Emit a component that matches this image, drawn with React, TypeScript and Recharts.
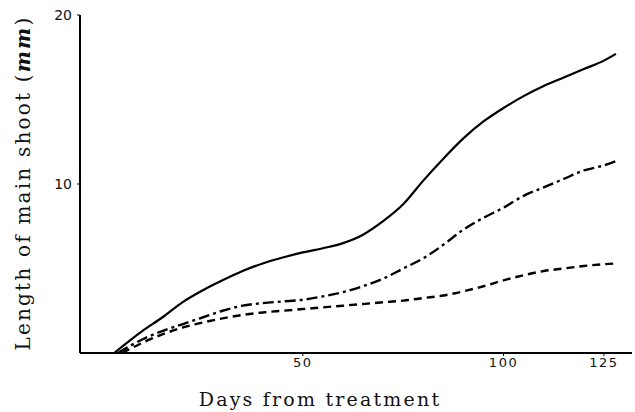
import { CartesianGrid, Line, LineChart, XAxis, YAxis } from "recharts";

// days after treatment, shared by the three curves
const days = [10, 15, 20, 25, 30, 35, 40, 45, 50, 55, 60, 65, 70, 75, 80, 85, 90, 95, 100, 105, 110, 115, 120, 125, 128];

// main shoot length (mm)
const solidVals = [1.3, 2.1, 3.0, 3.7, 4.3, 4.85, 5.3, 5.65, 5.95, 6.2, 6.5, 7.0, 7.8, 8.8, 10.2, 11.5, 12.7, 13.7, 14.5, 15.2, 15.8, 16.3, 16.8, 17.3, 17.7];
const dashDotVals = [0.8, 1.3, 1.7, 2.1, 2.5, 2.8, 2.95, 3.05, 3.15, 3.35, 3.6, 3.95, 4.4, 5.0, 5.6, 6.4, 7.3, 8.0, 8.6, 9.3, 9.8, 10.3, 10.8, 11.1, 11.35];
const dashedVals = [0.6, 1.1, 1.5, 1.8, 2.05, 2.25, 2.4, 2.5, 2.6, 2.7, 2.8, 2.9, 3.0, 3.1, 3.25, 3.4, 3.65, 3.95, 4.3, 4.6, 4.85, 5.0, 5.15, 5.25, 5.3];

// day each curve leaves the baseline
const startDays = [3, 4, 5];

const xTicks = [50, 100, 125];
const yTicks = [10, 20];

const build = (start: number, vals: number[]) => [
  { day: start, v: 0 },
  ...days.map((d, i) => ({ day: d, v: vals[i] })),
];

const serif = "'DejaVu Serif', serif";

export default function App() {
  const solid = build(startDays[0], solidVals);
  const dashDot = build(startDays[1], dashDotVals);
  const dashed = build(startDays[2], dashedVals);

  return (
    <div style={{ position: "absolute", left: 0, top: 0, background: "#fff" }}>
      <LineChart width={635} height={412} margin={{ top: 15, right: 3, bottom: 29, left: 0 }}>
        <CartesianGrid stroke="none" />
        <XAxis
          dataKey="day"
          type="number"
          domain={[-5.5, 132]}
          ticks={xTicks}
          allowDuplicatedCategory={false}
          axisLine={{ stroke: "#000", strokeWidth: 2 }}
          tickLine={{ stroke: "#000" }}
          tickSize={3}
          tick={{ fill: "#111", fontSize: 13, fontFamily: "'DejaVu Sans', sans-serif", letterSpacing: 1.5 }}
          label={{
            content: () => (
              <text
                x={320}
                y={399}
                textAnchor="middle"
                dominantBaseline="central"
                fill="#111"
                fontSize={19}
                fontFamily={serif}
                letterSpacing={2.2}
              >
                Days from treatment
              </text>
            ),
          }}
        />
        <YAxis
          type="number"
          domain={[0, 20]}
          ticks={yTicks}
          width={80}
          axisLine={{ stroke: "#000", strokeWidth: 2 }}
          tickLine={{ stroke: "#000" }}
          tickSize={3}
          tick={{ fill: "#111", fontSize: 14, fontFamily: "'DejaVu Sans', sans-serif", dx: -3 }}
          label={{
            content: () => (
              <text
                x={23}
                y={183}
                transform="rotate(-90 23 183)"
                textAnchor="middle"
                dominantBaseline="central"
                fill="#111"
                fontSize={20}
                fontFamily={serif}
                letterSpacing={2.2}
              >
                Length of main shoot (
                <tspan fontStyle="italic" fontWeight="bold">mm</tspan>)
              </text>
            ),
          }}
        />
        <Line data={solid} dataKey="v" type="monotone" stroke="#000" strokeWidth={2.2} dot={false} isAnimationActive={false} />
        <Line data={dashDot} dataKey="v" type="monotone" stroke="#000" strokeWidth={2.4} strokeDasharray="11 4 3 4" dot={false} isAnimationActive={false} />
        <Line data={dashed} dataKey="v" type="monotone" stroke="#000" strokeWidth={2.4} strokeDasharray="8 5" dot={false} isAnimationActive={false} />
      </LineChart>
    </div>
  );
}
